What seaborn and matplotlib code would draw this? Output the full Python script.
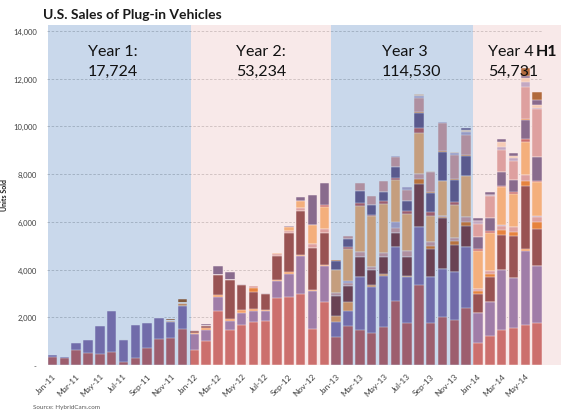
import matplotlib
matplotlib.use("Agg")
import matplotlib.pyplot as plt
from matplotlib.patches import Rectangle
import numpy as np
import seaborn as sns

months = ["Jan-11","Feb-11","Mar-11","Apr-11","May-11","Jun-11","Jul-11","Aug-11","Sep-11","Oct-11","Nov-11","Dec-11",
          "Jan-12","Feb-12","Mar-12","Apr-12","May-12","Jun-12","Jul-12","Aug-12","Sep-12","Oct-12","Nov-12","Dec-12",
          "Jan-13","Feb-13","Mar-13","Apr-13","May-13","Jun-13","Jul-13","Aug-13","Sep-13","Oct-13","Nov-13","Dec-13",
          "Jan-14","Feb-14","Mar-14","Apr-14","May-14","Jun-14"]

# stacked series, bottom to top
volt = [321,281,608,493,481,561,125,302,723,1108,1139,1529,
        610,1020,2280,1460,1690,1790,1850,2810,2860,2970,1510,2630,
        1157,1646,1478,1325,1604,2666,1772,3350,1772,2020,1883,2386,
        919,1198,1478,1533,1687,1756]
leaf = [87,67,298,573,1142,1708,931,1362,1031,848,672,954,
        680,450,590,370,510,490,420,700,950,1580,1580,1500,
        629,629,2221,1927,2123,2263,1927,2417,1927,2000,2026,2543,
        1257,1425,2514,2096,3101,2375]
orange_a = [0,0,0,0,0,0,0,0,0,0,0,0,
            50,70,80,80,100,55,55,70,70,56,56,70,
            251,349,0,98,84,0,42,0,0,0,0,0,
            0,0,0,0,70,0]
dark_red = [0,0,0,0,0,0,0,0,0,30,0,0,
            70,110,840,1650,1060,740,640,1000,1650,1860,1750,1350,
            866,698,838,629,699,600,768,1816,1160,2137,1117,907,
            796,1048,1453,1760,2655,1565]
orange_b = [0,0,0,0,0,0,0,0,0,0,30,60,
            0,0,0,0,0,140,0,0,0,0,0,0,
            0,0,0,0,0,0,0,210,112,50,182,168,
            112,140,196,196,209,280]
pink_a = [0,0,0,0,0,0,0,0,0,0,0,0,
          0,0,0,0,0,100,0,70,70,100,180,170,
          98,112,182,139,167,210,251,209,167,50,112,182,
          98,139,195,182,238,209]
lavender_a = [0,0,0,0,0,0,0,0,15,0,0,0,
              0,0,0,0,0,0,0,0,0,0,0,0,
              0,70,0,0,0,238,0,0,0,0,0,0,
              0,0,42,0,0,42]
light_orange = [0,0,0,0,30,0,0,0,0,0,0,60,
                0,0,0,0,0,0,0,40,170,290,800,920,
                992,1355,1956,2110,2068,1788,1565,1704,1118,1467,1397,1718,
                1607,1579,1565,1397,1397,1425]
red_small = [0,0,0,0,0,0,0,0,0,0,0,0,
             0,0,0,0,0,0,0,0,0,0,0,50,
             0,70,112,70,112,56,112,224,140,0,98,0,
             70,98,70,70,111,70]
dark_purple = [0,0,0,0,0,0,0,0,0,0,0,0,
               40,50,370,320,30,0,40,0,40,170,1270,950,
               377,350,489,420,405,462,447,629,796,1187,936,867,
               517,530,587,530,796,1000]
orange_c = [0,0,0,0,0,0,0,0,0,0,0,0,
            0,0,0,0,0,0,0,0,0,0,0,0,
            42,0,0,0,0,0,0,56,42,70,42,42,
            0,0,0,0,42,0]
pink_b = [0,0,0,0,0,0,0,0,0,0,0,0,
          0,0,0,0,0,0,0,0,0,0,0,0,
          0,126,349,377,461,446,447,572,838,1146,1020,838,
          530,909,922,796,1356,2000]
lavender_b = [0,0,0,0,0,0,0,0,0,0,0,0,
              0,0,0,0,0,0,0,0,0,0,0,0,
              0,0,0,0,0,42,111,98,0,42,56,111,
              112,56,125,112,181,70]
peach = [0,0,0,0,0,0,0,0,0,0,0,0,
         0,0,0,0,0,0,0,0,0,0,0,0,
         0,0,0,0,0,0,0,56,42,0,42,98,
         28,0,182,98,168,98]
dark_purple_b = [0,0,0,0,0,0,0,0,0,0,0,0,
                 0,0,0,0,0,0,0,0,0,0,0,0,
                 0,0,0,0,0,0,0,0,0,0,0,70,
                 125,111,140,111,100,224]
dark_orange = [0,0,0,0,0,0,40,25,0,0,80,160,
               0,0,0,0,0,0,0,0,0,0,0,0,
               0,0,0,0,0,0,0,0,0,0,0,0,
               0,0,0,0,319,349]

series = [volt, leaf, orange_a, dark_red, orange_b, pink_a, lavender_a, light_orange,
          red_small, dark_purple, orange_c, pink_b, lavender_b, peach, dark_purple_b, dark_orange]
colors = ["#C0504D", "#8064A2", "#F79646", "#762828", "#E46C0A", "#D99694", "#B3A2C7", "#F9AB63",
          "#C0504D", "#604A7B", "#E46C0A", "#D99694", "#B3A2C7", "#FCD5B5", "#604A7B", "#984807"]

# year bands
band_edges = [-0.42, 11.69, 23.56, 35.57, 43.0]
band_colors = ["#4F81BD", "#EBB9B9", "#4F81BD", "#EBB9B9"]
year_titles = ["Year 1:", "Year 2:", "Year 3", "Year 4"]
year_totals = ["17,724", "53,234", "114,530", "54,731"]

yticks = [0, 2000, 4000, 6000, 8000, 10000, 12000, 14000]
ytick_labels = ["-", "2,000", "4,000", "6,000", "8,000", "10,000", "12,000", "14,000"]

sns.set_theme(style="white")
plt.rcParams["font.family"] = ["Lato", "DejaVu Sans"]

W, H = 570, 414
fig = plt.figure(figsize=(W / 100, H / 100), dpi=100)
ax = fig.add_axes([46.6 / W, 1 - 366 / H, (543 - 46.6) / W, (366 - 32) / H])

def px(x, y):
    return x / W, 1 - y / H

cum = np.cumsum(np.array(series, dtype=float), axis=0)
for k in range(len(series) - 1, -1, -1):
    sns.barplot(x=months, y=cum[k], order=months, color=colors[k], saturation=1,
                width=0.8, edgecolor="white", linewidth=0.35, errorbar=None, ax=ax, zorder=2)

for i in range(4):
    ax.add_patch(Rectangle((band_edges[i], 0), band_edges[i + 1] - band_edges[i], 14250,
                           facecolor=band_colors[i], alpha=0.3, edgecolor="none",
                           clip_on=False, zorder=3))

ax.set_xlim(-0.5, 41.5)
ax.set_ylim(0, 14000)
ax.set_yticks(yticks)
ax.set_yticklabels(ytick_labels, fontsize=5.5, color="#404040")
ax.set_xticks(range(0, 42, 2))
ax.set_xticklabels(months[::2], rotation=45, ha="right", rotation_mode="anchor",
                   fontsize=6, color="#404040")
ax.tick_params(axis="both", length=0)
ax.tick_params(axis="y", pad=7)
ax.tick_params(axis="x", pad=5)
ax.set_xlabel("")
ax.set_ylabel("")
ax.grid(axis="y", linestyle=(0, (3, 2)), color="#bfbfbf", linewidth=0.6)
ax.grid(axis="x", visible=False)
ax.set_axisbelow(True)
for s in ax.spines.values():
    s.set_visible(False)

fig.text(*px(43, 19), "U.S. Sales of Plug-in Vehicles", fontsize=10, fontweight="bold",
         ha="left", va="baseline", color="#1a1a1a")
fig.text(*px(4.5, 195), "Units Sold", fontsize=5, fontweight="bold", rotation=90,
         ha="center", va="center", color="#1a1a1a")
fig.text(*px(33, 409), "Source: HybridCars.com", fontsize=4.5, ha="left", va="baseline",
         color="#595959")

year_x = [88, 236, 382, 488]
for i in range(4):
    fig.text(*px(year_x[i], 56), year_titles[i], fontsize=11.5, ha="left", va="baseline",
             color="#111111")
    fig.text(*px(year_x[i], 76), year_totals[i], fontsize=11.5, ha="left", va="baseline",
             color="#111111")
fig.text(*px(536, 56), "H1", fontsize=11.5, fontweight="bold", ha="left", va="baseline",
         color="#111111")

fig.savefig("out.png", dpi=100)
